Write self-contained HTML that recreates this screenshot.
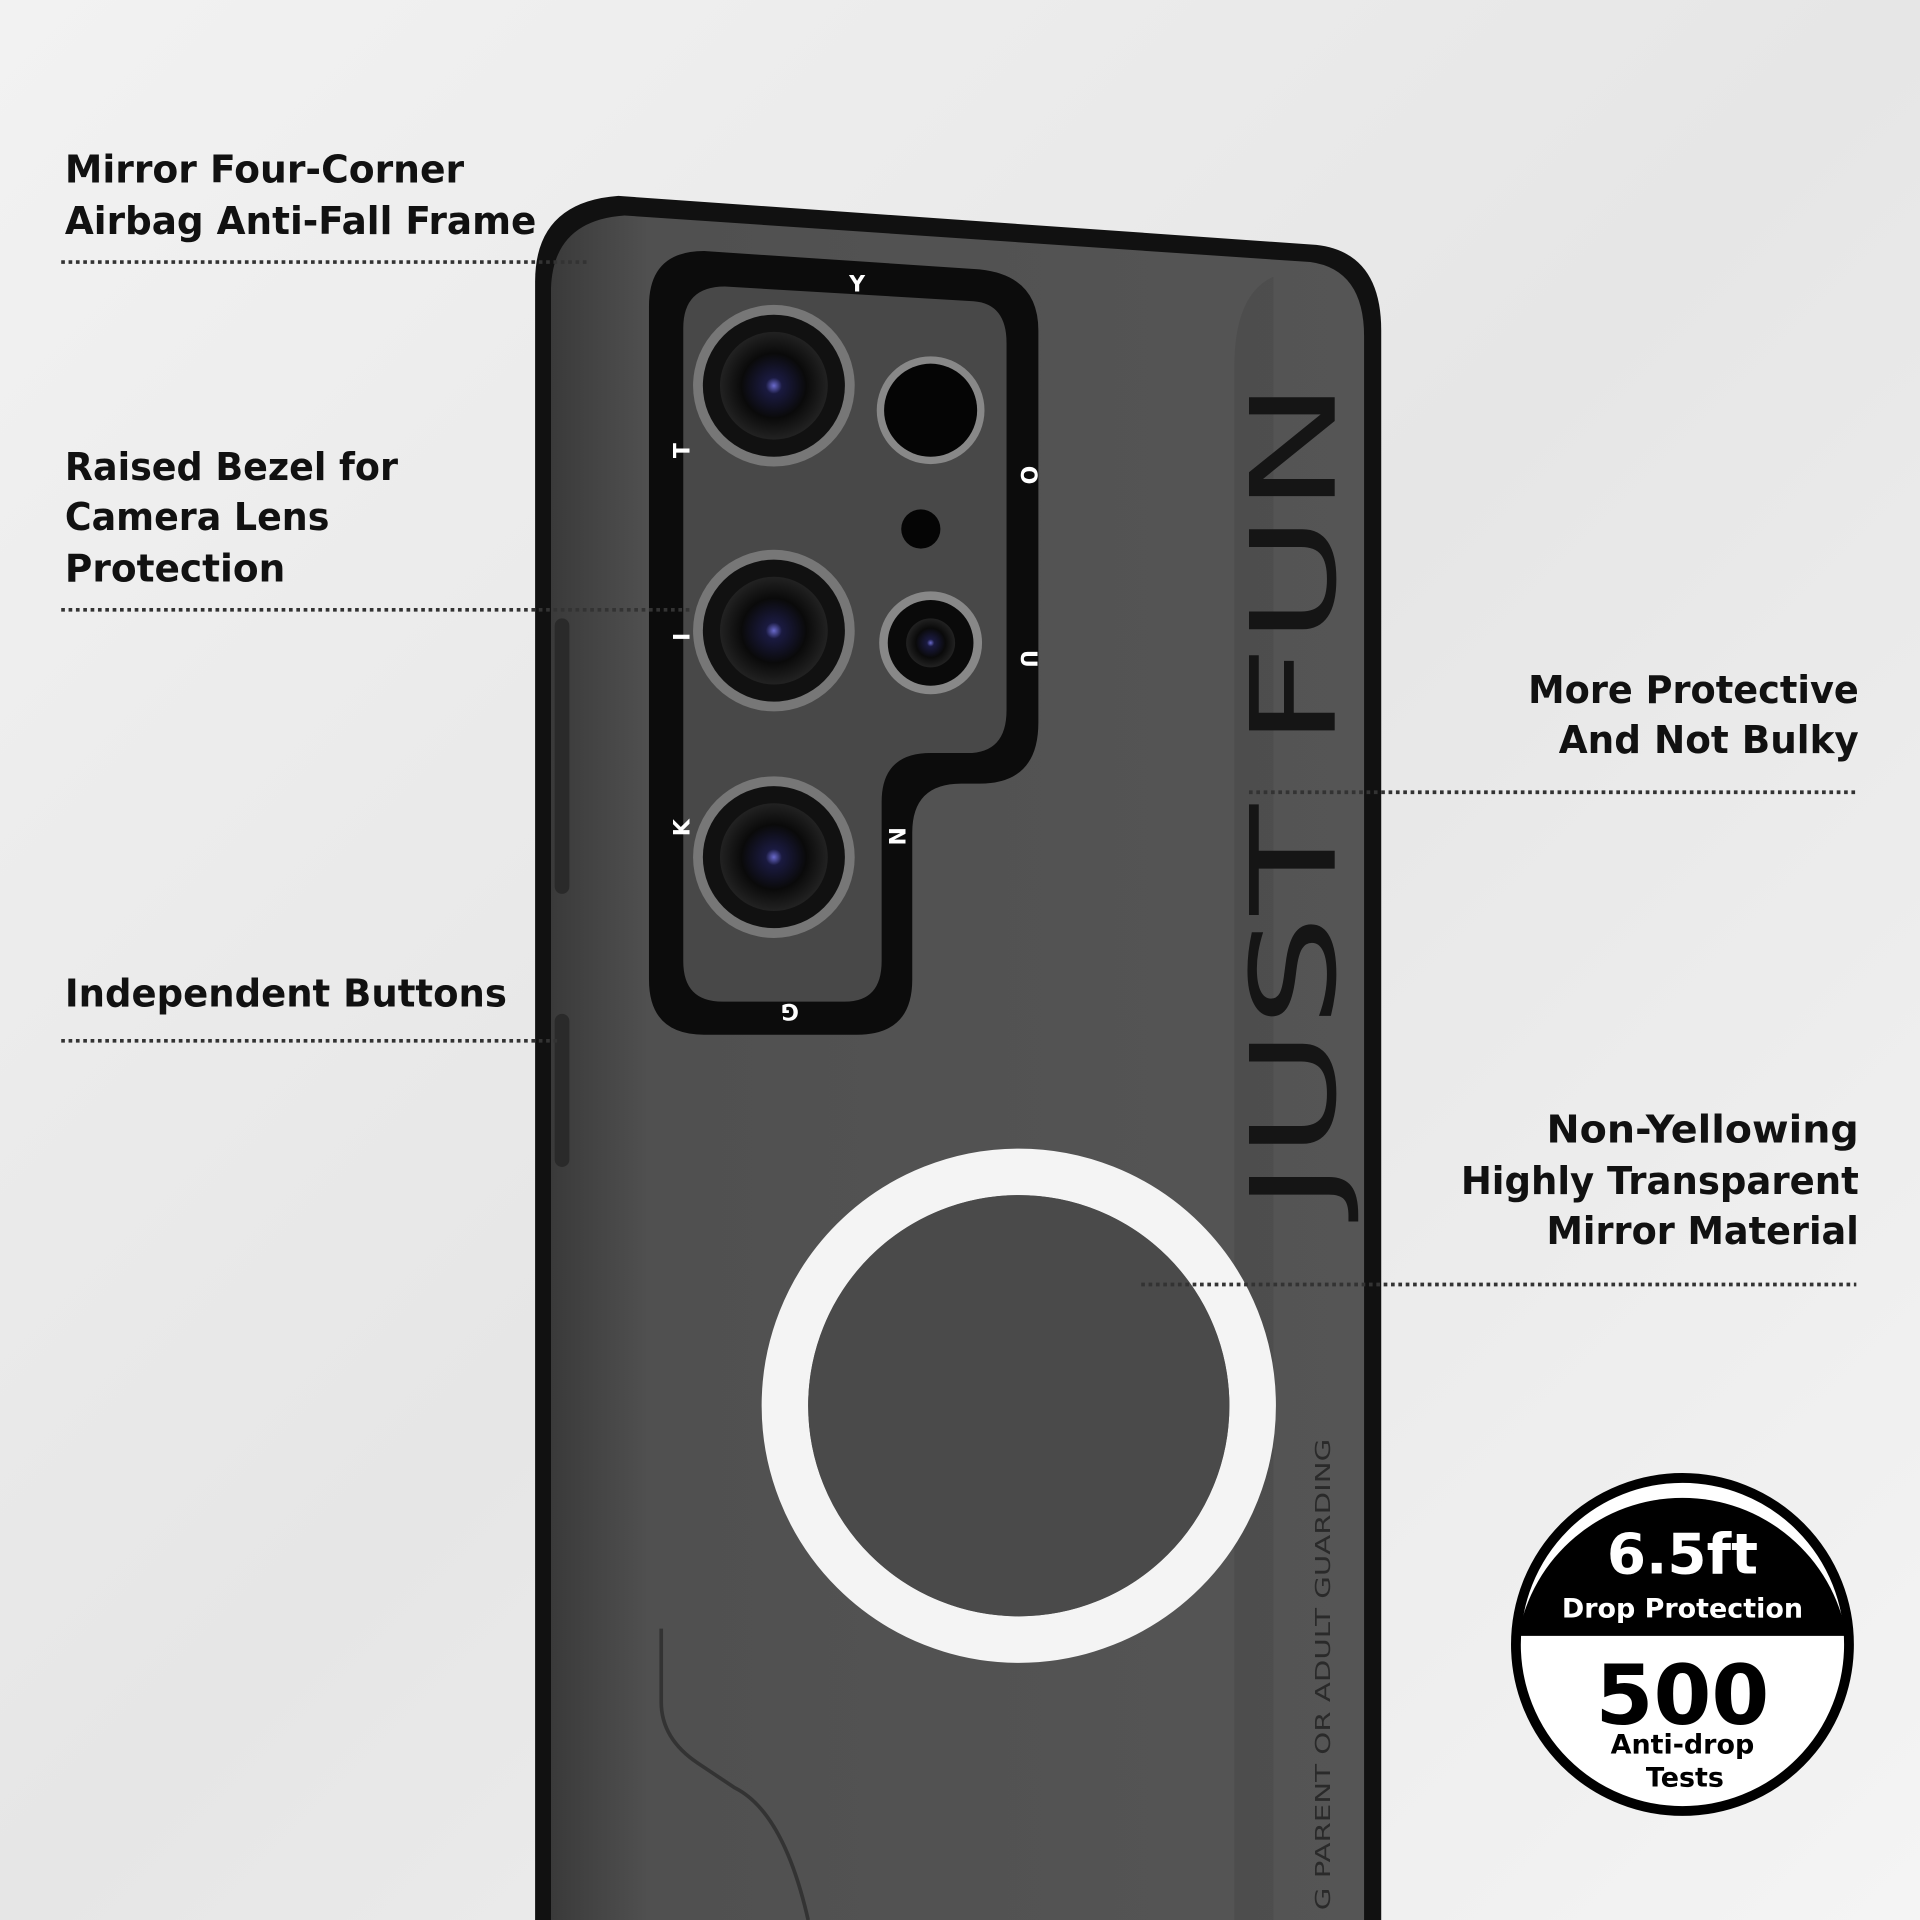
<!DOCTYPE html>
<html><head><meta charset="utf-8"><style>
html,body{margin:0;padding:0;width:1920px;height:1920px;overflow:hidden;background:#eee}
svg{display:block}
text{font-family:"DejaVu Sans","Liberation Sans",sans-serif;font-weight:bold}
</style></head><body>
<svg width="1920" height="1920" viewBox="0 0 1568 1568" xmlns="http://www.w3.org/2000/svg">
<defs>
<linearGradient id="bg" x1="0" y1="0" x2="1" y2="1"><stop offset="0" stop-color="#f2f2f2"/><stop offset="0.5" stop-color="#e6e6e6"/><stop offset="1" stop-color="#f4f4f4"/></linearGradient>
<linearGradient id="body" x1="0" y1="0" x2="1" y2="0"><stop offset="0" stop-color="#3a3a3a"/><stop offset="0.12" stop-color="#505050"/><stop offset="1" stop-color="#555"/></linearGradient>
<radialGradient id="lens"><stop offset="0" stop-color="#6a6acc"/><stop offset="0.15" stop-color="#1a1a40"/><stop offset="0.6" stop-color="#0a0a0a"/><stop offset="1" stop-color="#222"/></radialGradient>
</defs>
<rect width="1568" height="1568" fill="url(#bg)"/>

<path d="M437,1568 L437,230 Q437,165 505,160 L1075,200 Q1128,206 1128,270 L1128,1568 Z" fill="#111"/>
<path d="M450,1568 L450,235 Q452,180 510,176 L1070,214 Q1114,220 1114,275 L1114,1568 Z" fill="url(#body)"/>
<path d="M1008,300 Q1008,240 1040,226 L1040,1568 L1008,1568 Z" fill="#4a4a4a" opacity="0.6"/>
<rect x="453" y="505" width="12" height="225" rx="6" fill="#2a2a2a"/>
<rect x="453" y="828" width="12" height="125" rx="6" fill="#2a2a2a"/>
<path d="M540,1330 L540,1390 Q540,1420 570,1440 L600,1460 Q640,1480 660,1568" fill="none" stroke="#333" stroke-width="3"/>

<path d="M530,250 Q530,205 575,205 L800,220 Q848,225 848,270 L848,590 Q848,640 800,640 L785,640 Q745,640 745,680 L745,800 Q745,845 700,845 L575,845 Q530,845 530,800 Z" fill="#0c0c0c"/>
<path d="M558,268 Q558,234 592,234 L795,246 Q822,248 822,280 L822,580 Q822,615 790,615 L760,615 Q720,615 720,655 L720,785 Q720,818 690,818 L590,818 Q558,818 558,785 Z" fill="#484848"/>
<g>
<circle cx="632" cy="315" r="66" fill="#777"/><circle cx="632" cy="315" r="58" fill="#111"/><circle cx="632" cy="315" r="44" fill="url(#lens)"/>
<circle cx="632" cy="515" r="66" fill="#777"/><circle cx="632" cy="515" r="58" fill="#111"/><circle cx="632" cy="515" r="44" fill="url(#lens)"/>
<circle cx="632" cy="700" r="66" fill="#777"/><circle cx="632" cy="700" r="58" fill="#111"/><circle cx="632" cy="700" r="44" fill="url(#lens)"/>
<circle cx="760" cy="335" r="44" fill="#888"/><circle cx="760" cy="335" r="38" fill="#050505"/>
<circle cx="760" cy="525" r="42" fill="#888"/><circle cx="760" cy="525" r="35" fill="#0a0a0a"/><circle cx="760" cy="525" r="20" fill="url(#lens)"/>
<circle cx="752" cy="432" r="16" fill="#050505"/>
</g>
<g fill="#fff" font-size="18" text-anchor="middle">
<text x="700" y="238">Y</text>
<text x="557" y="374" transform="rotate(-90 557 368)">T</text>
<text x="557" y="526" transform="rotate(-90 557 520)">I</text>
<text x="557" y="682" transform="rotate(-90 557 676)">K</text>
<text x="645" y="832" transform="rotate(180 645 826)">G</text>
<text x="732" y="689" transform="rotate(90 732 683)">N</text>
<text x="840" y="544" transform="rotate(90 840 538)">U</text>
<text x="840" y="394" transform="rotate(90 840 388)">O</text>
</g>

<text x="0" y="0" font-size="96" fill="#151515" textLength="680" lengthAdjust="spacingAndGlyphs" transform="translate(1090,990) rotate(-90)" style="font-weight:normal">JUST FUN</text>
<text x="0" y="0" font-size="17" fill="#2a2a2a" textLength="385" lengthAdjust="spacingAndGlyphs" transform="translate(1086,1560) rotate(-90)" style="font-weight:normal">G PARENT OR ADULT GUARDING</text>

<circle cx="832" cy="1148" r="191" fill="none" stroke="#f4f4f4" stroke-width="38"/>
<circle cx="832" cy="1148" r="172" fill="#4a4a4a"/>

<g stroke="#333" stroke-width="3" stroke-dasharray="3 3">
<line x1="50" y1="214" x2="480" y2="214"/>
<line x1="50" y1="498" x2="565" y2="498"/>
<line x1="50" y1="850" x2="458" y2="850"/>
<line x1="1020" y1="647" x2="1516" y2="647"/>
<line x1="932" y1="1049" x2="1516" y2="1049"/>
</g>

<g fill="#111" font-size="31">
<text x="53" y="149" textLength="326" lengthAdjust="spacingAndGlyphs">Mirror Four-Corner</text>
<text x="53" y="191" textLength="385" lengthAdjust="spacingAndGlyphs">Airbag Anti-Fall Frame</text>
<text x="53" y="392" textLength="272" lengthAdjust="spacingAndGlyphs">Raised Bezel for</text>
<text x="53" y="433" textLength="216" lengthAdjust="spacingAndGlyphs">Camera Lens</text>
<text x="53" y="475" textLength="180" lengthAdjust="spacingAndGlyphs">Protection</text>
<text x="53" y="822" textLength="361" lengthAdjust="spacingAndGlyphs">Independent Buttons</text>
</g>
<g fill="#111" font-size="31" text-anchor="end">
<text x="1518" y="574" textLength="270" lengthAdjust="spacingAndGlyphs">More Protective</text>
<text x="1518" y="615" textLength="245" lengthAdjust="spacingAndGlyphs">And Not Bulky</text>
<text x="1518" y="933" textLength="255" lengthAdjust="spacingAndGlyphs">Non-Yellowing</text>
<text x="1518" y="975" textLength="325" lengthAdjust="spacingAndGlyphs">Highly Transparent</text>
<text x="1518" y="1016" textLength="255" lengthAdjust="spacingAndGlyphs">Mirror Material</text>
</g>

<circle cx="1374" cy="1343" r="136" fill="#fff" stroke="#000" stroke-width="8"/>
<path d="M1240,1336 A136,136 0 0 1 1508,1336 Z" fill="#000"/>
<text x="1374" y="1285" font-size="46" fill="#fff" text-anchor="middle">6.5ft</text>
<text x="1374" y="1321" font-size="22" fill="#fff" text-anchor="middle">Drop Protection</text>
<text x="1374" y="1408" font-size="68" fill="#000" text-anchor="middle">500</text>
<text x="1374" y="1432" font-size="22" fill="#000" text-anchor="middle">Anti-drop</text>
<text x="1376" y="1459" font-size="22" fill="#000" text-anchor="middle">Tests</text>
</svg>
</body></html>
